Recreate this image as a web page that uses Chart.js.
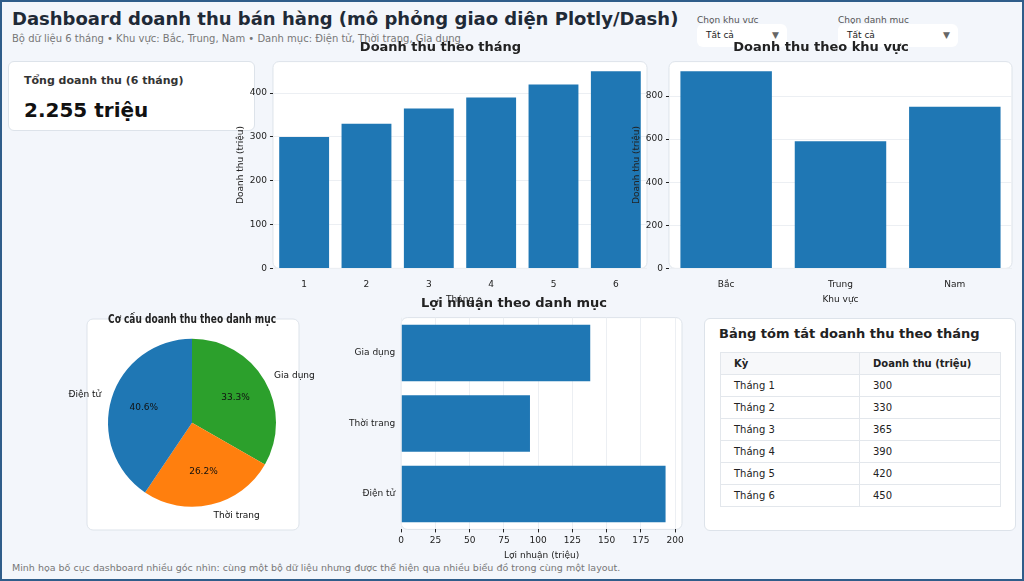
<!DOCTYPE html>
<html><head><meta charset="utf-8">
<script src="https://cdn.jsdelivr.net/npm/chart.js@4/dist/chart.umd.min.js"></script>
<style>
body{margin:0;width:1024px;height:581px;overflow:hidden;font-family:"DejaVu Sans",sans-serif;}
#frame{position:absolute;left:0;top:0;width:1020px;height:577px;border:2px solid #2f5d8a;background:#f3f6fb;}
.abs{position:absolute;}
.card{position:absolute;background:#fff;border:1px solid #dde3ea;border-radius:6px;}
canvas{position:absolute;}
table{border-collapse:collapse;font-size:10px;color:#222;}
td,th{border:1px solid #e3e7ec;height:21px;padding:0 0 0 13px;text-align:left;}
</style></head><body>
<div id="frame">
<div class="abs" style="left:10px;top:6px;font-size:18px;font-weight:bold;color:#1f2a37">Dashboard doanh thu bán hàng (mô phỏng giao diện Plotly/Dash)</div>
<div class="abs" style="left:10px;top:31px;font-size:10px;color:#777">Bộ dữ liệu 6 tháng • Khu vực: Bắc, Trung, Nam • Danh mục: Điện tử, Thời trang, Gia dụng</div>
<div class="abs" style="left:695px;top:13px;font-size:9px;color:#555">Chọn khu vực</div>
<div class="card" style="left:695px;top:22px;width:90px;height:23px;border:none;font-size:9px;color:#222"><span style="position:absolute;left:9px;top:6px">Tất cả</span><span style="position:absolute;right:8px;top:6px;color:#666">▼</span></div>
<div class="abs" style="left:836px;top:13px;font-size:9px;color:#555">Chọn danh mục</div>
<div class="card" style="left:836px;top:22px;width:120px;height:23px;border:none;font-size:9px;color:#222"><span style="position:absolute;left:9px;top:6px">Tất cả</span><span style="position:absolute;right:8px;top:6px;color:#666">▼</span></div>
<div class="card" style="left:6px;top:59px;width:245px;height:68px">
 <div class="abs" style="left:15px;top:12px;font-size:11px;font-weight:bold;color:#333">Tổng doanh thu (6 tháng)</div>
 <div class="abs" style="left:15px;top:36px;font-size:20px;font-weight:bold;color:#111">2.255 triệu</div>
</div>
<div class="card" style="left:702px;top:316px;width:310px;height:211px">
 <div class="abs" style="left:14px;top:7px;font-size:13px;font-weight:bold;color:#222">Bảng tóm tắt doanh thu theo tháng</div>
 <table id="tbl" class="abs" style="left:15px;top:33px;width:281px"></table>
</div>
<div class="abs" style="left:10px;top:560px;font-size:9.5px;color:#777">Minh họa bố cục dashboard nhiều góc nhìn: cùng một bộ dữ liệu nhưng được thể hiện qua nhiều biểu đồ trong cùng một layout.</div>
<canvas id="c1" style="left:232px;top:34px;width:420px;height:270px"></canvas>
<canvas id="c2" style="left:628px;top:34px;width:388px;height:270px"></canvas>
<canvas id="c3" style="left:40px;top:290px;width:300px;height:240px"></canvas>
<canvas id="c4" style="left:330px;top:290px;width:360px;height:270px"></canvas>
</div>
<script>
const months = ['1','2','3','4','5','6'];
const monthRevenue = [300, 330, 365, 390, 420, 450];
const regions = ['Bắc','Trung','Nam'];
const regionRevenue = [915, 590, 750];
const pieCats = ['Gia dụng','Thời trang','Điện tử'];
const pieShare = [33.3, 26.2, 40.6];
const pieColors = ['#2ca02c','#ff7f0e','#1f77b4'];
const profitCats = ['Gia dụng','Thời trang','Điện tử'];
const profitValues = [138, 94, 193];

const blue = '#1f77b4';
const F = 'DejaVu Sans';
Chart.defaults.font.family = F;
Chart.defaults.color = '#222';
Chart.defaults.animation = false;
Chart.defaults.responsive = false;

document.getElementById('tbl').innerHTML =
  '<tr style="background:#f7f8fa"><th style="width:125px">Kỳ</th><th>Doanh thu (triệu)</th></tr>' +
  months.map((m,i)=>`<tr><td>Tháng ${m}</td><td>${monthRevenue[i]}</td></tr>`).join('');

const cardBg = {
  id:'cardBg',
  beforeDraw(ch){
    const a = ch.chartArea, c = ch.ctx;
    c.save();
    c.fillStyle='#fff'; c.strokeStyle='#dde3ea'; c.lineWidth=1;
    c.beginPath(); c.roundRect(a.left, a.top, a.right-a.left, a.bottom-a.top, 6); c.fill(); c.stroke();
    c.restore();
  }
};
function setup(id,w,h){const el=document.getElementById(id);el.width=w;el.height=h;return el;}
const title = t => ({display:true,text:t,font:{size:13,weight:'bold',family:F},color:'#222',padding:{top:4,bottom:6}});
const tk = {font:{size:9},color:'#222',autoSkip:false};
const axTitle = t => ({display:true,text:t,font:{size:9},color:'#222',padding:1});
// matplotlib-like ticks: multiples of step from min up to max
function stepTicks(step){return a=>{const t=[];for(let v=0;v<=a.max+1e-9;v+=step)t.push({value:v});a.ticks=t;};}

new Chart(setup('c1',420,270),{
  type:'bar',
  data:{labels:months,datasets:[{data:monthRevenue,backgroundColor:blue,barPercentage:0.8,categoryPercentage:1}]},
  options:{plugins:{legend:{display:false},tooltip:{enabled:false},title:title('Doanh thu theo tháng')},
    layout:{padding:{right:7,bottom:0}},
    scales:{
      x:{grid:{display:false},border:{display:false},ticks:tk,title:axTitle('Tháng')},
      y:{min:0,max:472,afterBuildTicks:stepTicks(100),ticks:tk,grid:{color:'#eceff3',tickColor:'#222',tickLength:3},border:{display:false},title:axTitle('Doanh thu (triệu)')}
    }},
  plugins:[cardBg]
});
new Chart(setup('c2',388,270),{
  type:'bar',
  data:{labels:regions,datasets:[{data:regionRevenue,backgroundColor:blue,barPercentage:0.8,categoryPercentage:1}]},
  options:{plugins:{legend:{display:false},tooltip:{enabled:false},title:title('Doanh thu theo khu vực')},
    layout:{padding:{right:6}},
    scales:{
      x:{grid:{display:false},border:{display:false},ticks:tk,title:axTitle('Khu vực')},
      y:{min:0,max:960,afterBuildTicks:stepTicks(200),ticks:tk,grid:{color:'#eceff3',tickColor:'#222',tickLength:3},border:{display:false},title:axTitle('Doanh thu (triệu)')}
    }},
  plugins:[cardBg]
});

const pieLabels = {
  id:'pieLabels',
  beforeDraw(ch){
    const c=ch.ctx; c.save(); c.fillStyle='#fff'; c.strokeStyle='#dde3ea';
    c.beginPath(); c.roundRect(45,27,212,211,6); c.fill(); c.stroke(); c.restore();
  },
  afterDraw(ch){
    const c=ch.ctx, meta=ch.getDatasetMeta(0);
    c.save(); c.font='9px "'+F+'"'; c.fillStyle='#111'; c.textBaseline='middle';
    meta.data.forEach((arc,i)=>{
      const mid=(arc.startAngle+arc.endAngle)/2, r=arc.outerRadius;
      c.textAlign='center';
      c.fillText(pieShare[i]+'%', arc.x+Math.cos(mid)*r*0.6, arc.y+Math.sin(mid)*r*0.6);
      const lx=arc.x+Math.cos(mid)*r*1.13, ly=arc.y+Math.sin(mid)*r*1.13;
      c.textAlign = Math.cos(mid)>0.1?'left':(Math.cos(mid)<-0.1?'right':'center');
      c.fillText(pieCats[i], lx, ly);
    });
    c.restore();
  }
};
new Chart(setup('c3',300,240),{
  type:'pie',
  data:{labels:pieCats,datasets:[{data:pieShare,backgroundColor:pieColors,borderWidth:0}]},
  options:{plugins:{legend:{display:false},tooltip:{enabled:false},title:title('Cơ cấu doanh thu theo danh mục')},
    layout:{padding:{top:16,bottom:20,left:66,right:66}}},
  plugins:[pieLabels]
});

new Chart(setup('c4',360,270),{
  type:'bar',
  data:{labels:profitCats,datasets:[{data:profitValues,backgroundColor:blue,barPercentage:0.8,categoryPercentage:1}]},
  options:{indexAxis:'y',plugins:{legend:{display:false},tooltip:{enabled:false},title:title('Lợi nhuận theo danh mục')},
    layout:{padding:{left:14,right:10,bottom:0}},
    scales:{
      x:{min:0,max:205,afterBuildTicks:stepTicks(25),ticks:{...tk,maxRotation:0},grid:{color:'#eceff3',tickColor:'#222',tickLength:3},border:{display:false},title:axTitle('Lợi nhuận (triệu)')},
      y:{grid:{display:false,tickLength:3},border:{display:false},ticks:tk}
    }},
  plugins:[cardBg]
});
</script>
</body></html>
